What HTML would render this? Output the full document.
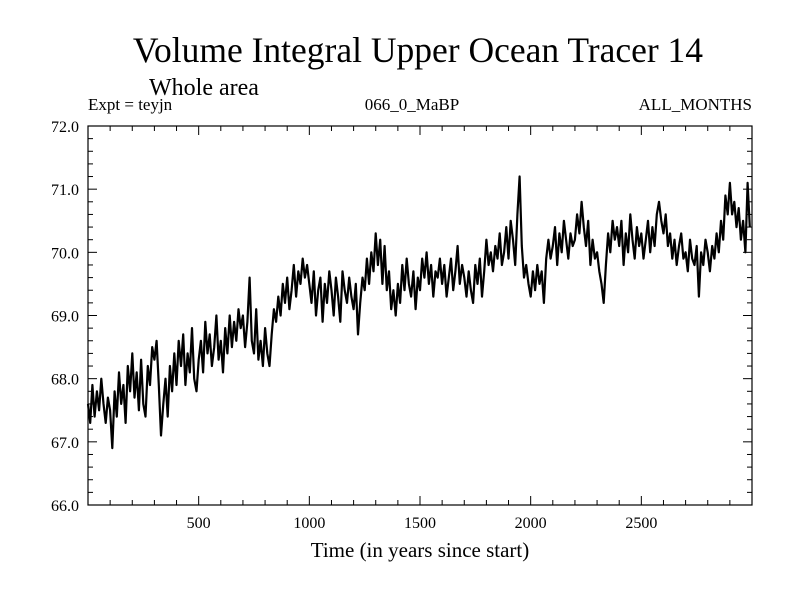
<!DOCTYPE html>
<html><head><meta charset="utf-8"><style>
html,body{margin:0;padding:0;background:#fff}
svg{display:block;font-family:"Liberation Serif",serif}
</style></head><body>
<svg id="chart" width="800" height="600" viewBox="0 0 800 600">
<text x="418" y="62" font-size="35.5" text-anchor="middle">Volume Integral Upper Ocean Tracer 14</text>
<text x="149" y="95" font-size="24">Whole area</text>
<text x="88" y="110" font-size="17">Expt = teyjn</text>
<text x="412" y="110" font-size="17" text-anchor="middle">066_0_MaBP</text>
<text x="752" y="110" font-size="17" text-anchor="end">ALL_MONTHS</text>
<text x="420" y="557" font-size="21" text-anchor="middle">Time (in years since start)</text>
<g id="ticks"></g>
<path id="series" fill="none" stroke="#000" stroke-width="2.2" stroke-linejoin="round"/>
<rect x="88" y="126" width="664" height="379" fill="none" stroke="#000" stroke-width="1.2"/>
</svg>
<script>
const startYear = 0;
const stepYears = 10;
const values = [
67.6,67.3,67.9,67.4,67.8,67.5,68.0,67.6,67.3,67.7,
67.5,66.9,67.8,67.4,68.1,67.6,67.9,67.3,68.2,67.8,
68.4,67.7,68.1,67.5,68.3,67.6,67.4,68.2,67.9,68.5,
68.3,68.6,67.9,67.1,67.6,68.0,67.4,68.2,67.8,68.4,
67.9,68.6,68.2,68.7,67.9,68.4,68.1,68.8,68.0,67.8,
68.3,68.6,68.1,68.9,68.4,68.7,68.2,68.5,69.0,68.3,
68.6,68.1,68.8,68.4,69.0,68.5,68.9,68.6,69.1,68.8,
69.0,68.5,68.9,69.6,68.6,68.4,69.1,68.3,68.6,68.2,
68.8,68.4,68.2,68.7,69.1,68.9,69.3,69.0,69.5,69.2,
69.6,69.1,69.4,69.8,69.3,69.7,69.5,69.9,69.6,69.8,
69.5,69.2,69.7,69.0,69.4,69.6,68.9,69.5,69.2,69.7,
69.4,69.0,69.6,69.3,68.9,69.7,69.4,69.2,69.6,69.3,
69.1,69.5,68.7,69.2,69.6,69.4,69.9,69.5,70.0,69.7,
70.3,69.8,70.2,69.5,70.1,69.4,69.7,69.1,69.4,69.0,
69.5,69.2,69.8,69.4,69.9,69.5,69.3,69.7,69.1,69.6,
69.4,69.9,69.6,70.0,69.5,69.8,69.3,69.7,69.6,69.9,
69.5,69.8,69.3,69.6,69.9,69.4,69.7,70.1,69.5,69.8,
69.6,69.3,69.7,69.4,69.2,69.8,69.5,69.9,69.3,69.7,
70.2,69.8,70.0,69.7,70.1,69.9,70.3,69.8,70.0,70.4,
69.9,70.5,70.2,69.8,70.6,71.2,70.1,69.6,69.8,69.5,
69.3,69.7,69.4,69.8,69.5,69.7,69.2,69.9,70.2,69.9,
70.1,70.4,69.8,70.3,70.0,70.5,70.2,69.9,70.3,70.1,
70.2,70.6,70.3,70.8,70.4,70.1,70.5,69.8,70.2,69.9,
70.0,69.7,69.5,69.2,69.8,70.3,70.0,70.5,70.2,70.4,
70.1,70.5,69.8,70.3,70.0,70.6,70.2,69.9,70.4,70.1,
70.3,69.9,70.2,70.5,70.0,70.4,70.1,70.6,70.8,70.5,
70.3,70.6,70.1,70.3,69.9,70.2,69.8,70.1,70.3,69.9,
70.0,69.7,70.2,69.9,69.8,70.1,69.3,70.0,69.8,70.2,
70.0,69.7,70.1,69.9,70.3,70.0,70.5,70.2,70.9,70.6,
71.1,70.6,70.8,70.4,70.7,70.2,70.5,70.0,71.1,70.4
];
const xTicks = [500,1000,1500,2000,2500];
const yTicks = [66.0,67.0,68.0,69.0,70.0,71.0,72.0];
const xDomain = [0,3000], yDomain = [66,72];
const X0=88,X1=752,Y0=505,Y1=126;
const xs = v => X0 + (v-xDomain[0])/(xDomain[1]-xDomain[0])*(X1-X0);
const ys = v => Y0 - (v-yDomain[0])/(yDomain[1]-yDomain[0])*(Y0-Y1);
const NS="http://www.w3.org/2000/svg";
const g=document.getElementById('ticks');
function line(x1,y1,x2,y2,name){const l=document.createElementNS(NS,'line');
l.setAttribute('x1',x1);l.setAttribute('y1',y1);l.setAttribute('x2',x2);l.setAttribute('y2',y2);
l.setAttribute('stroke','#000');l.setAttribute('stroke-width','1');


g.appendChild(l);}
function text(x,y,s,anchor,name){const t=document.createElementNS(NS,'text');
t.setAttribute('x',x);t.setAttribute('y',y);t.setAttribute('font-size','16');t.setAttribute('text-anchor',anchor);t.textContent=s;


g.appendChild(t);}
for(let v=100;v<3000;v+=100){const x=xs(v);const major=v%500===0;const L=major?9:5;
line(x,Y0,x,Y0-L,'x-tick');line(x,Y1,x,Y1+L,'x-tick-top');}
for(let i=0;i<=30;i++){const v=66+i*0.2;const y=ys(v);const major=i%5===0;const L=major?9:5;
line(X0,y,X0+L,y,'y-tick');line(X1,y,X1-L,y,'y-tick-right');}
xTicks.forEach(v=>text(xs(v),528,String(v),'middle','x-tick-label'));
yTicks.forEach(v=>text(79,ys(v)+6,v.toFixed(1),'end','y-tick-label'));
let d='';values.forEach((v,i)=>{d+=(i?'L':'M')+xs(startYear+i*stepYears).toFixed(1)+' '+ys(v).toFixed(1);});
document.getElementById('series').setAttribute('d',d);
</script>
</body></html>
